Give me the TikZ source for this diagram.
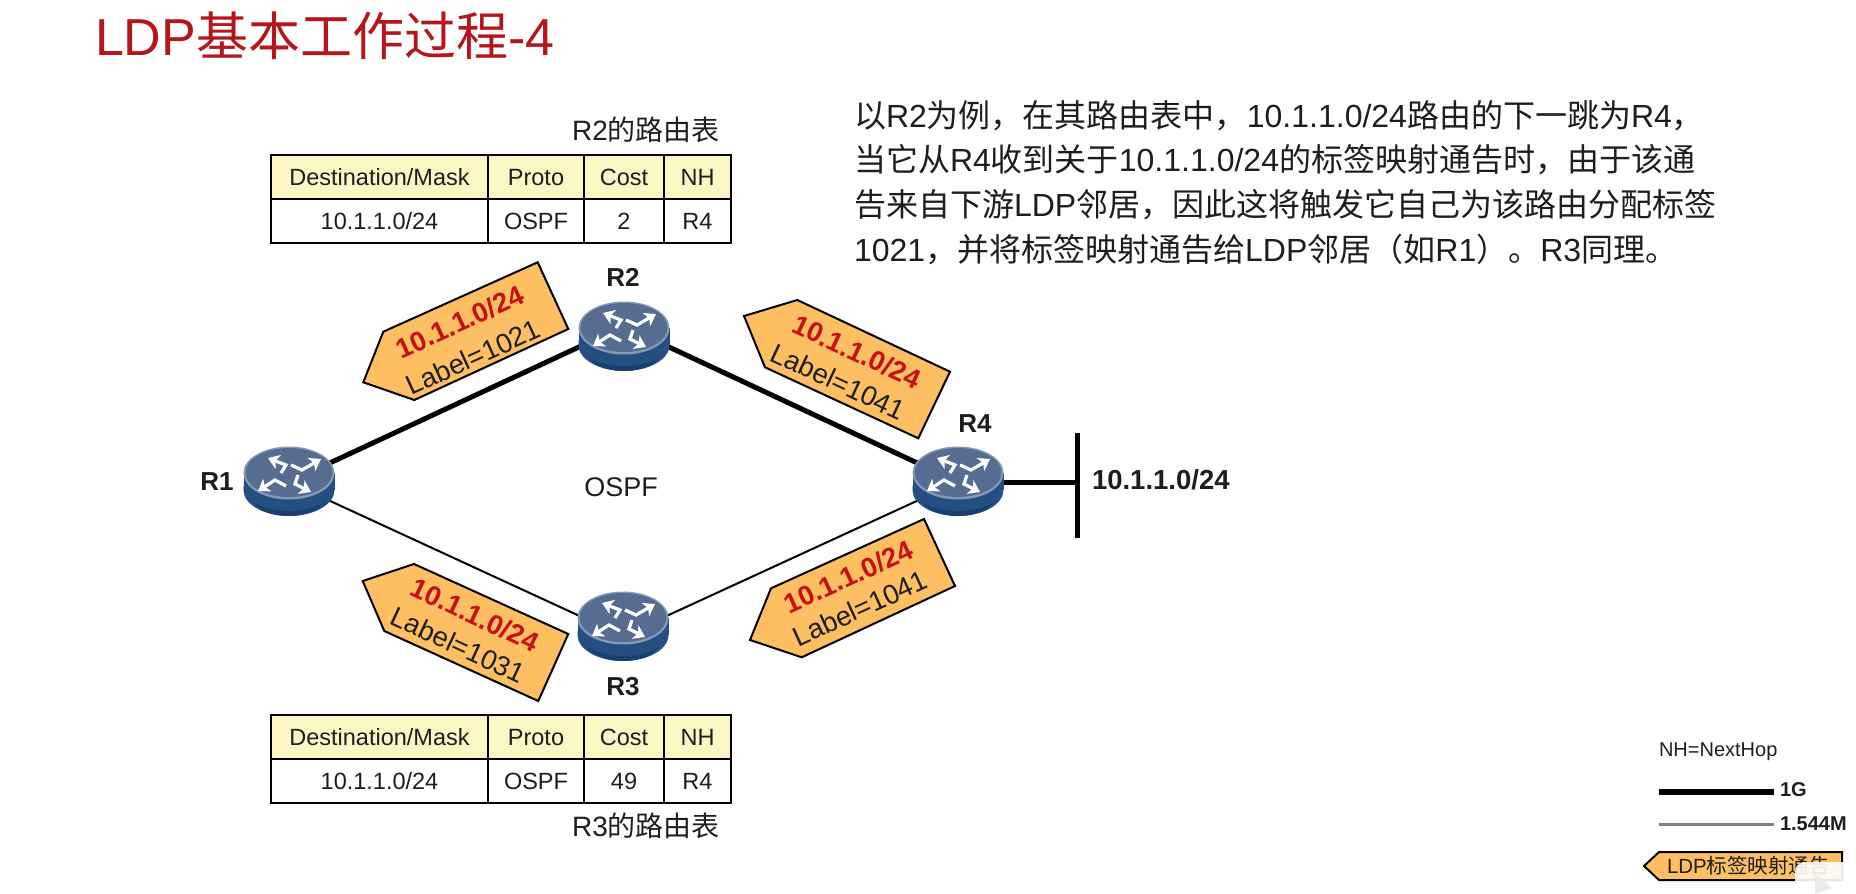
\documentclass[tikz,border=0pt]{standalone}
\usepackage{fontspec}
\setmainfont{Liberation Sans}
\newfontfamily\cjk{Noto Sans CJK SC}
\usetikzlibrary{arrows.meta,shapes.geometric}
\definecolor{titlered}{HTML}{B5161C}
\definecolor{tagfill}{HTML}{FDBF62}
\definecolor{headfill}{HTML}{FCF6C4}
\definecolor{tagred}{HTML}{C80F12}
\definecolor{ink}{HTML}{1E1E1E}
\definecolor{routerside}{HTML}{244F80}
\definecolor{routerdeep}{HTML}{173F6F}
\definecolor{routerrim}{HTML}{8499B6}
\definecolor{routertop}{HTML}{566C90}
\newcommand{\fs}[1]{\fontsize{#1}{#1}\selectfont}
\tikzset{
  x=1pt,y=-1pt,
  every node/.style={inner sep=0pt,outer sep=0pt,text=ink},
  hub/.style={ellipse,minimum width=91pt,minimum height=68pt},
  heavy/.style={black,line width=5pt},
  light/.style={black,line width=2pt},
  tagshape/.style={draw=black,line width=2pt,fill=tagfill,line join=miter},
  tagred/.style={text=tagred,font=\fs{27.5}\bfseries},
  taglabel/.style={font=\fs{27.5}},
  rname/.style={font=\fs{26}\bfseries},
  cellbase/.style={draw=black,line width=1.6pt,font=\fs{23.5},anchor=north west,align=center,text height=17pt,text depth=0pt},
  headcell/.style={cellbase,fill=headfill},
  bodycell/.style={cellbase,fill=white},
  para/.style={anchor=base west,font=\fs{32},text=ink},
  caption/.style={font=\fs{28}},
  legendtext/.style={font=\fs{20}\bfseries,anchor=west},
  arrowline/.style={white,line width=3.2pt,line join=miter,-{Stealth[length=11pt,width=15pt,inset=3pt]}},
  pics/routerpic/.style={code={
    \fill[routerside] (-45.5,0) rectangle (45.5,17);
    \fill[routerside] (0,17) ellipse (45.5 and 26);
    \fill[routerdeep] (0,22) ellipse (38 and 21);
    \fill[routerside] (0,14) ellipse (45.5 and 24);
    \fill[routerrim] (0,0) ellipse (45.5 and 26.5);
    \fill[routertop] (0,-0.5) ellipse (43.5 and 24.5);
    \draw[arrowline] (2,-8) -- (13,-3) -- (32,-14);
    \draw[arrowline] (-8,0) -- (-3,-8) -- (-21,-15);
    \draw[arrowline] (-3,13) -- (-14,7) -- (-31,18);
    \draw[arrowline] (9,2) -- (6,11) -- (22,19);
  }},
}
\begin{document}
\begin{tikzpicture}
\useasboundingbox (0,0) rectangle (1856,894);
% title
\node[anchor=base west,text=titlered,font=\fs{52}] (title) at (95,55) {LDP{\cjk 基本工作过程}-4};
% paragraph
\node[para] (p1) at (854,127) {{\cjk 以}R2{\cjk 为例，在其路由表中，}10.1.1.0/24{\cjk 路由的下一跳为}R4{\cjk ，}};
\node[para] (p2) at (854,171) {{\cjk 当它从}R4{\cjk 收到关于}10.1.1.0/24{\cjk 的标签映射通告时，由于该通}};
\node[para] (p3) at (854,216) {{\cjk 告来自下游}LDP{\cjk 邻居，因此这将触发它自己为该路由分配标签}};
\node[para] (p4) at (854,261) {1021{\cjk ，并将标签映射通告给}LDP{\cjk 邻居（如}R1{\cjk ）。}R3{\cjk 同理。}};
% routing table R2
\node[caption] (cap2) at (646,130) {R2{\cjk 的路由表}};
\node[headcell,minimum width=217pt,minimum height=44pt] (a11) at (271,155) {Destination/Mask};
\node[headcell,minimum width=96pt,minimum height=44pt] (a12) at (488,155) {Proto};
\node[headcell,minimum width=80pt,minimum height=44pt] (a13) at (584,155) {Cost};
\node[headcell,minimum width=67pt,minimum height=44pt] (a14) at (664,155) {NH};
\node[bodycell,minimum width=217pt,minimum height=44pt] (a21) at (271,199) {10.1.1.0/24};
\node[bodycell,minimum width=96pt,minimum height=44pt] (a22) at (488,199) {OSPF};
\node[bodycell,minimum width=80pt,minimum height=44pt] (a23) at (584,199) {2};
\node[bodycell,minimum width=67pt,minimum height=44pt] (a24) at (664,199) {R4};
% routing table R3
\node[headcell,minimum width=217pt,minimum height=44pt] (b11) at (271,715) {Destination/Mask};
\node[headcell,minimum width=96pt,minimum height=44pt] (b12) at (488,715) {Proto};
\node[headcell,minimum width=80pt,minimum height=44pt] (b13) at (584,715) {Cost};
\node[headcell,minimum width=67pt,minimum height=44pt] (b14) at (664,715) {NH};
\node[bodycell,minimum width=217pt,minimum height=44pt] (b21) at (271,759) {10.1.1.0/24};
\node[bodycell,minimum width=96pt,minimum height=44pt] (b22) at (488,759) {OSPF};
\node[bodycell,minimum width=80pt,minimum height=44pt] (b23) at (584,759) {49};
\node[bodycell,minimum width=67pt,minimum height=44pt] (b24) at (664,759) {R4};
\node[caption] (cap3) at (646,826) {R3{\cjk 的路由表}};
% router hubs
\node[hub] (r1) at (289,482) {};
\node[hub] (r2) at (624,326) {};
\node[hub] (r3) at (623,636) {};
\node[hub] (r4) at (958,482) {};
\coordinate (barT) at (1077,433);
\coordinate (barB) at (1077,538);
\coordinate (barM) at (1077,482);
% links
\draw[heavy] (r1.center) -- (r2.center);
\draw[heavy] (r2.center) -- (r4.center);
\draw[light] (r1.center) -- (r3.center);
\draw[light] (r3.center) -- (r4.center);
\draw[heavy] (r4.center) -- (barM);
\draw[heavy] (barT) -- (barB);
% routers
\pic at (289,473) {routerpic};
\pic at (624,328) {routerpic};
\pic at (623,618) {routerpic};
\pic at (958,473) {routerpic};
% router names
\node[rname] (n1) at (217,482) {R1};
\node[rname] (n2) at (623,277) {R2};
\node[rname] (n3) at (623,687) {R3};
\node[rname] (n4) at (975,424) {R4};
\node[font=\fs{27}] (ospf) at (621,487) {OSPF};
\node[font=\fs{27.5}\bfseries,anchor=west] (net) at (1092,480) {10.1.1.0/24};
% label tags
\draw[tagshape] (363.3,382.3) -- (383.3,331.7) -- (537.7,262.3) -- (568.3,329) -- (414.3,400) -- cycle;
\node[tagred,rotate=24.5] (t1a) at (460,322) {10.1.1.0/24};
\node[taglabel,rotate=24.5] (t1b) at (473,357) {Label=1021};
\draw[tagshape] (744,316) -- (797.3,300) -- (950,371.7) -- (918.3,438.3) -- (765,367.3) -- cycle;
\node[tagred,rotate=-25] (t2a) at (856.7,351.7) {10.1.1.0/24};
\node[taglabel,rotate=-25] (t2b) at (838.3,381.7) {Label=1041};
\draw[tagshape] (362.7,581) -- (414,564) -- (568.3,634) -- (538.3,701) -- (384.3,631) -- cycle;
\node[tagred,rotate=-25] (t3a) at (475,615) {10.1.1.0/24};
\node[taglabel,rotate=-25] (t3b) at (458.3,645) {Label=1031};
\draw[tagshape] (750,640) -- (771,588.3) -- (924,519) -- (955,586) -- (801.7,657.3) -- cycle;
\node[tagred,rotate=24.5] (t4a) at (848.3,576.7) {10.1.1.0/24};
\node[taglabel,rotate=24.5] (t4b) at (860,608.3) {Label=1041};
% legend
\node[font=\fs{20},anchor=west] (nh) at (1659,752) {NH=NextHop};
\coordinate (l1a) at (1659,792);
\coordinate (l1b) at (1774,792);
\coordinate (l2a) at (1659,824);
\coordinate (l2b) at (1774,824);
\draw[black,line width=6pt] (l1a) -- (l1b);
\draw[black!50,line width=3pt] (l2a) -- (l2b);
\node[legendtext] (g1) at (1780,790) {1G};
\node[legendtext] (g2) at (1780,824) {1.544M};
\draw[tagshape] (1644,866) -- (1659,852) -- (1842,852) -- (1842,880) -- (1659,880) -- cycle;
\node[font=\fs{20.5},anchor=west] (ldp) at (1667,866) {LDP{\cjk 标签映射通告}};
% player badge over the corner
\fill[white,opacity=.9,rounded corners=10pt] (1795,862) -- (1856,862) -- (1856,894) -- (1795,894) -- cycle;
\fill[black!8] (1815,874) -- (1832,888) -- (1815,894) -- cycle;
\end{tikzpicture}
\end{document}
